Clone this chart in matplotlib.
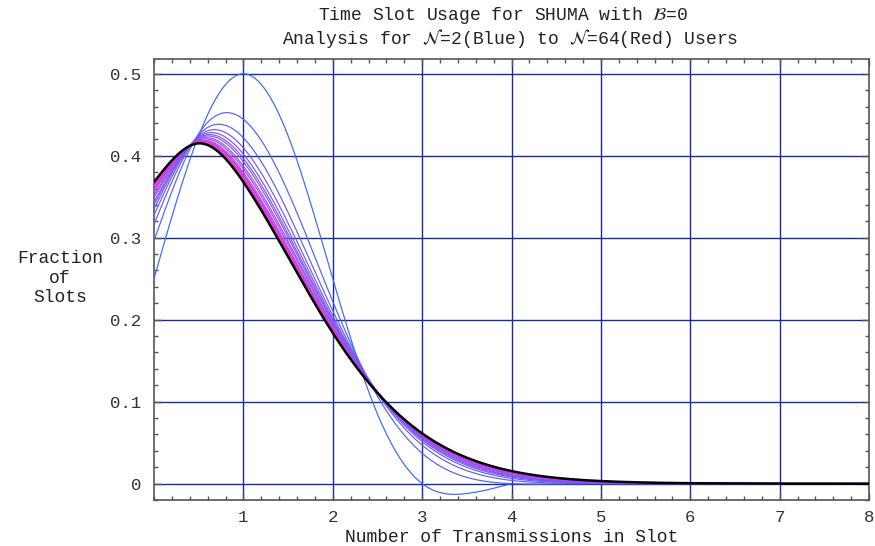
import numpy as np
import matplotlib
matplotlib.use("Agg")
import matplotlib.pyplot as plt

plt.rcParams["font.family"] = ["Liberation Mono", "DejaVu Sans"]
plt.rcParams["mathtext.fontset"] = "stix"

# Transmissions per slot, sampled every half step
k_step = 0.5

# Fraction of slots vs. number of transmissions, one row per user count N
users = [2, 3, 4, 5, 6, 7, 8, 10, 12, 16, 20, 24, 32, 40, 48, 64]
fractions = [
    [.2500, .4244, .5000, .4244, .2500, .0849, .0000, -.0121, .0000],
    [.2963, .4268, .4444, .3557, .2222, .1067, .0370, .0076, .0000, -.0004, .0000, .0001, .0000],
    [.3164, .4253, .4219, .3308, .2109, .1103, .0469, .0158, .0039, .0006, .0000, .0000, .0000, .0000, .0000],
    [.3277, .4238, .4096, .3179, .2048, .1113, .0512, .0199, .0064, .0017, .0003, .0000, .0000, .0000, .0000],
    [.3349, .4227, .4019, .3100, .2009, .1116, .0536, .0223, .0080, .0025, .0006, .0001, .0000, .0000, .0000],
    [.3399, .4217, .3966, .3046, .1983, .1117, .0551, .0239, .0092, .0031, .0009, .0002, .0001, .0000, .0000],
    [.3436, .4210, .3927, .3007, .1964, .1117, .0561, .0251, .0100, .0036, .0011, .0003, .0001, .0000, .0000],
    [.3487, .4200, .3874, .2956, .1937, .1117, .0574, .0266, .0112, .0043, .0015, .0005, .0001, .0000, .0000],
    [.3520, .4192, .3840, .2922, .1920, .1116, .0582, .0275, .0119, .0047, .0017, .0006, .0002, .0001, .0000],
    [.3561, .4182, .3798, .2881, .1899, .1114, .0591, .0287, .0128, .0053, .0021, .0007, .0003, .0001, .0000],
    [.3585, .4176, .3774, .2857, .1887, .1113, .0596, .0293, .0133, .0057, .0022, .0008, .0003, .0001, .0000],
    [.3601, .4172, .3758, .2842, .1879, .1112, .0599, .0297, .0137, .0059, .0024, .0009, .0003, .0001, .0000],
    [.3621, .4168, .3738, .2823, .1869, .1111, .0603, .0302, .0141, .0062, .0026, .0010, .0004, .0001, .0000],
    [.3632, .4163, .3725, .2811, .1863, .1110, .0605, .0305, .0144, .0063, .0027, .0010, .0004, .0001, .0000],
    [.3640, .4162, .3717, .2804, .1859, .1110, .0606, .0307, .0145, .0065, .0027, .0011, .0004, .0002, .0001],
    [.3650, .4159, .3708, .2795, .1854, .1109, .0608, .0309, .0147, .0066, .0028, .0011, .0004, .0002, .0001],
]
# Limiting curve for a very large population (thick black)
limit_fractions = [.3679, .4151, .3679, .2767, .1839, .1107, .0613, .0316, .0153,
                   .0070, .0031, .0013, .0005, .0002, .0001, .0000, .0000]

x_ticks = [1, 2, 3, 4, 5, 6, 7, 8]
y_ticks = [0, 0.1, 0.2, 0.3, 0.4, 0.5]
y_tick_labels = ["0", "0.1", "0.2", "0.3", "0.4", "0.5"]


def natural_spline(values, step, samples_per_step=30):
    """Natural cubic spline through equally spaced samples."""
    y = np.asarray(values, dtype=float)
    n = len(y)
    x = np.arange(n) * step
    A = np.zeros((n, n))
    r = np.zeros(n)
    A[0, 0] = A[-1, -1] = 1.0
    for i in range(1, n - 1):
        A[i, i - 1] = A[i, i + 1] = step / 6.0
        A[i, i] = 2.0 * step / 3.0
        r[i] = (y[i + 1] - 2 * y[i] + y[i - 1]) / step
    M = np.linalg.solve(A, r)
    xs = np.linspace(x[0], x[-1], (n - 1) * samples_per_step + 1)
    idx = np.clip(np.searchsorted(x, xs, side="right") - 1, 0, n - 2)
    a = (x[idx + 1] - xs) / step
    b = (xs - x[idx]) / step
    ys = (a * y[idx] + b * y[idx + 1]
          + ((a ** 3 - a) * M[idx] + (b ** 3 - b) * M[idx + 1]) * step ** 2 / 6.0)
    return xs, ys


fig = plt.figure(figsize=(8.75, 5.46), dpi=100)
ax = fig.add_axes([154 / 875, 46 / 546, 715 / 875, 441 / 546])

# colour runs from blue (N=2) to magenta (N=64) on a log scale of N
blue = np.array([0.22, 0.40, 1.0])
pink = np.array([1.0, 0.20, 0.86])
for n_users, vals in zip(users, fractions):
    t = np.log(n_users / 2) / np.log(32)
    col = blue * (1 - t) + pink * t
    xs, ys = natural_spline(vals, k_step)
    ax.plot(xs, ys, color=col, lw=0.85, zorder=3)

xs, ys = natural_spline(limit_fractions, k_step)
ax.plot(xs, ys, color="black", lw=1.8, zorder=4)

ax.set_xlim(0, 8)
ax.set_ylim(-0.019, 0.518)
ax.set_xticks(x_ticks)
ax.set_yticks(y_ticks)
ax.set_yticklabels(y_tick_labels)
ax.set_xticks(np.arange(0, 8.01, 0.2), minor=True)
ax.set_yticks(np.arange(-0.02, 0.52, 0.02), minor=True)

grid_col = "#1a2a9c"
for gx in x_ticks[:-1]:
    ax.axvline(gx, color=grid_col, lw=1.0, zorder=1)
for gy in y_ticks:
    ax.axhline(gy, color=grid_col, lw=1.0, zorder=1)

frame_col = "#555555"
for sp in ax.spines.values():
    sp.set_color(frame_col)
    sp.set_linewidth(1.2)
ax.tick_params(which="both", direction="in", top=True, right=True,
               color=frame_col, width=1.0, labelsize=12.5, labelcolor="#333333")
ax.tick_params(which="major", length=5)
ax.tick_params(which="minor", length=3)
ax.tick_params(axis="x", pad=7)
ax.tick_params(axis="y", pad=9)

ax.set_xlabel("Number of Transmissions in Slot", fontsize=13, color="#222222")
ax.xaxis.set_label_coords(0.5, -0.084)
ax.xaxis.label.set_va("center")
ax.set_ylabel("Fraction\nof\nSlots", fontsize=13, color="#222222",
              rotation=0, ha="center", va="center", linespacing=1.2)
ax.yaxis.set_label_coords(-0.1315, 0.503)

fig.text(503 / 875, 1 - 16 / 546, r"Time Slot Usage for SHUMA with $\mathcal{B}$=0",
         ha="center", va="center", fontsize=13, color="#222222")
fig.text(510 / 875, 1 - 38 / 546,
         r"Analysis for $\mathcal{N}$=2(Blue) to $\mathcal{N}$=64(Red) Users",
         ha="center", va="center", fontsize=13, color="#222222")

fig.savefig("out.png", dpi=100)
